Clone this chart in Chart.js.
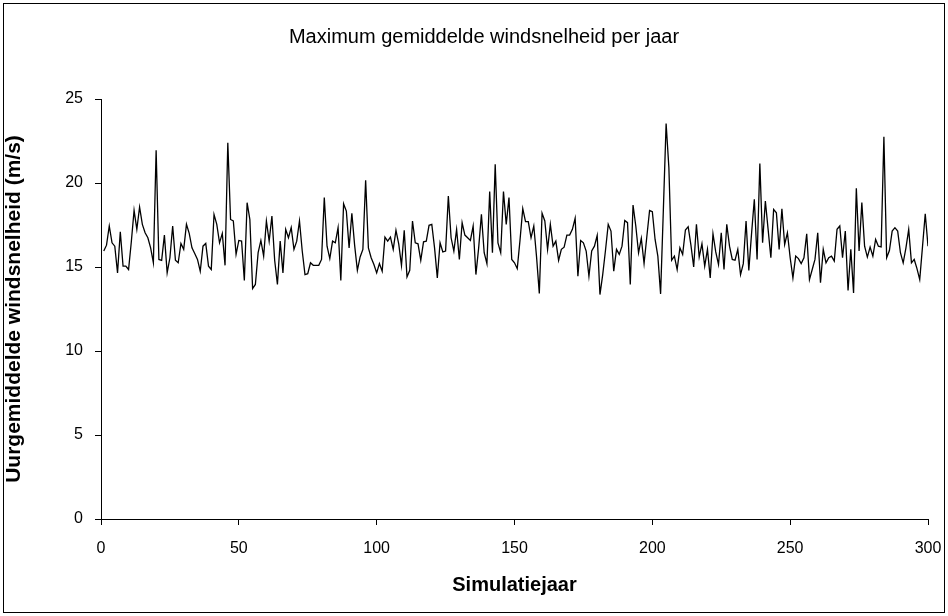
<!DOCTYPE html>
<html>
<head>
<meta charset="utf-8">
<script src="https://cdn.jsdelivr.net/npm/chart.js@4.4.1/dist/chart.umd.min.js"></script>
<style>
  html, body { margin: 0; padding: 0; background: #fff; }
  #wrap { width: 948px; height: 616px; position: relative; }
</style>
</head>
<body>
<div id="wrap"><canvas id="graf"></canvas></div>
<script>
// maximale uurgemiddelde windsnelheid per simulatiejaar (m/s), jaar 1..300
const windsnelheid = [
  15.95, 16.3, 17.44, 16.44, 16.24, 14.65, 17.1, 15.05, 15.05, 14.85,
  16.5, 18.37, 17.24, 18.57, 17.54, 17.04, 16.74, 16.14, 15.25, 21.95,
  15.45, 15.4, 16.9, 14.65, 15.55, 17.44, 15.4, 15.25, 16.4, 16.05,
  17.54, 17.0, 16.14, 15.8, 15.45, 14.75, 16.24, 16.4, 15.05, 14.85,
  18.13, 17.54, 16.44, 17.0, 15.1, 22.4, 17.83, 17.74, 15.75, 16.58,
  16.54, 14.2, 18.83, 17.83, 13.72, 13.96, 15.85, 16.58, 15.65, 17.74,
  16.54, 18.03, 15.4, 13.96, 16.54, 14.65, 17.24, 16.74, 17.34, 16.05,
  16.54, 17.74, 15.95, 14.55, 14.6, 15.25, 15.1, 15.1, 15.1, 15.45,
  19.13, 16.24, 15.5, 16.54, 16.44, 17.34, 14.2, 18.77, 18.33, 16.14,
  18.2, 16.3, 14.8, 15.6, 16.05, 20.16, 16.14, 15.55, 15.15, 14.65,
  15.2, 14.75, 16.78, 16.54, 16.78, 16.05, 17.18, 16.38, 15.1, 17.18,
  14.41, 14.8, 17.74, 16.44, 16.38, 15.4, 16.5, 16.54, 17.48, 17.54,
  16.14, 14.35, 16.44, 15.9, 15.95, 19.23, 16.74, 15.95, 17.24, 15.45,
  17.64, 16.9, 16.74, 16.58, 17.44, 14.55, 16.14, 18.13, 15.85, 15.2,
  19.49, 15.85, 21.12, 16.44, 15.85, 19.49, 17.54, 19.13, 15.45, 15.25,
  14.9, 16.6, 18.47, 17.7, 17.7, 16.74, 17.44, 15.6, 13.42, 18.2,
  17.74, 16.05, 17.54, 16.24, 16.54, 15.4, 16.05, 16.18, 16.9, 16.9,
  17.24, 17.9, 14.45, 16.58, 16.44, 15.95, 14.45, 15.95, 16.24, 16.88,
  13.36, 14.55, 15.98, 17.54, 17.14, 14.75, 16.05, 15.75, 16.24, 17.77,
  17.64, 13.96, 18.69, 17.44, 15.85, 16.7, 15.2, 16.8, 18.37, 18.29,
  16.64, 15.65, 13.4, 18.4, 23.54, 20.92, 15.4, 15.65, 14.85, 16.14,
  15.75, 17.2, 17.4, 16.3, 15.0, 17.54, 15.59, 16.38, 15.05, 16.05,
  14.35, 16.98, 15.9, 15.15, 17.04, 14.85, 17.54, 16.24, 15.45, 15.4,
  16.05, 14.55, 15.2, 17.74, 14.8, 17.0, 19.03, 15.45, 21.16, 16.44,
  18.93, 17.24, 15.55, 18.43, 18.23, 16.05, 18.47, 16.34, 17.04, 15.55,
  14.35, 15.65, 15.5, 15.2, 15.55, 16.98, 14.25, 14.85, 15.45, 17.04,
  14.06, 16.05, 15.25, 15.55, 15.65, 15.35, 17.24, 17.44, 15.55, 17.14,
  13.6, 16.05, 13.46, 19.68, 15.95, 18.83, 16.24, 15.59, 16.18, 15.65,
  16.64, 16.24, 16.2, 22.75, 15.55, 15.98, 17.14, 17.34, 17.14, 15.85,
  15.25, 16.14, 17.24, 15.25, 15.45, 14.9, 14.25, 16.2, 18.17, 16.24
]
const jaren = windsnelheid.map((v, i) => i + 1)
const xTicks = [0, 50, 100, 150, 200, 250, 300]
const yTicks = [0, 5, 10, 15, 20, 25]

const titel = 'Maximum gemiddelde windsnelheid per jaar'
const fam = '"Liberation Sans", Arial, sans-serif'

// witte achtergrond, kader om de hele grafiek en de titel
const kader = {
  id: 'kader',
  beforeDraw(chart) {
    const ctx = chart.ctx
    ctx.save()
    ctx.fillStyle = '#fff'
    ctx.fillRect(0, 0, chart.width, chart.height)
    ctx.strokeStyle = '#000'
    ctx.lineWidth = 1
    ctx.strokeRect(3.5, 3.5, 941, 609)
    ctx.restore()
  },
  afterDraw(chart) {
    const ctx = chart.ctx
    ctx.save()
    ctx.fillStyle = '#000'
    ctx.font = '20px ' + fam
    ctx.textAlign = 'center'
    ctx.textBaseline = 'middle'
    ctx.fillText(titel, 484, 37)
    ctx.restore()
  }
}

const graf = document.getElementById('graf')
new Chart(graf, {
  type: 'line',
  data: {
    datasets: [{
      data: jaren.map((j, i) => ({ x: j, y: windsnelheid[i] })),
      borderColor: '#000',
      borderWidth: 1.3,
      pointRadius: 0,
      tension: 0,
      fill: false
    }]
  },
  options: {
    responsive: true,
    maintainAspectRatio: false,
    animation: false,
    devicePixelRatio: 1,
    layout: { padding: { left: 0, right: 20, top: 99, bottom: 0 } },
    plugins: {
      legend: { display: false },
      tooltip: { enabled: false },
      title: { display: false }
    },
    scales: {
      x: {
        type: 'linear',
        min: 0,
        max: 300,
        afterBuildTicks: s => { s.ticks = xTicks.map(v => ({ value: v })) },
        afterFit: s => {
          s.height = 97
          s.paddingLeft = 0
          s.paddingRight = 0
        },
        grid: { drawOnChartArea: false, drawTicks: true, tickLength: 6, color: '#000' },
        border: { display: true, color: '#000', width: 1 },
        ticks: { color: '#000', padding: 14, maxRotation: 0, font: { family: fam, size: 16 } },
        title: {
          display: true,
          text: 'Simulatiejaar',
          color: '#000',
          font: { family: fam, size: 20, weight: 'bold' },
          padding: { top: 0, bottom: 19 }
        }
      },
      y: {
        min: 0,
        max: 25,
        afterBuildTicks: s => { s.ticks = yTicks.map(v => ({ value: v })) },
        afterFit: s => { s.width = 101 },
        grid: { drawOnChartArea: false, drawTicks: true, tickLength: 6, color: '#000' },
        border: { display: true, color: '#000', width: 1 },
        ticks: { color: '#000', padding: 12, font: { family: fam, size: 16 } },
        title: {
          display: true,
          text: 'Uurgemiddelde windsnelheid (m/s)',
          color: '#000',
          font: { family: fam, size: 21, weight: 'bold' },
          padding: { top: 2, bottom: 0 }
        }
      }
    }
  },
  plugins: [kader]
})
</script>
</body>
</html>
